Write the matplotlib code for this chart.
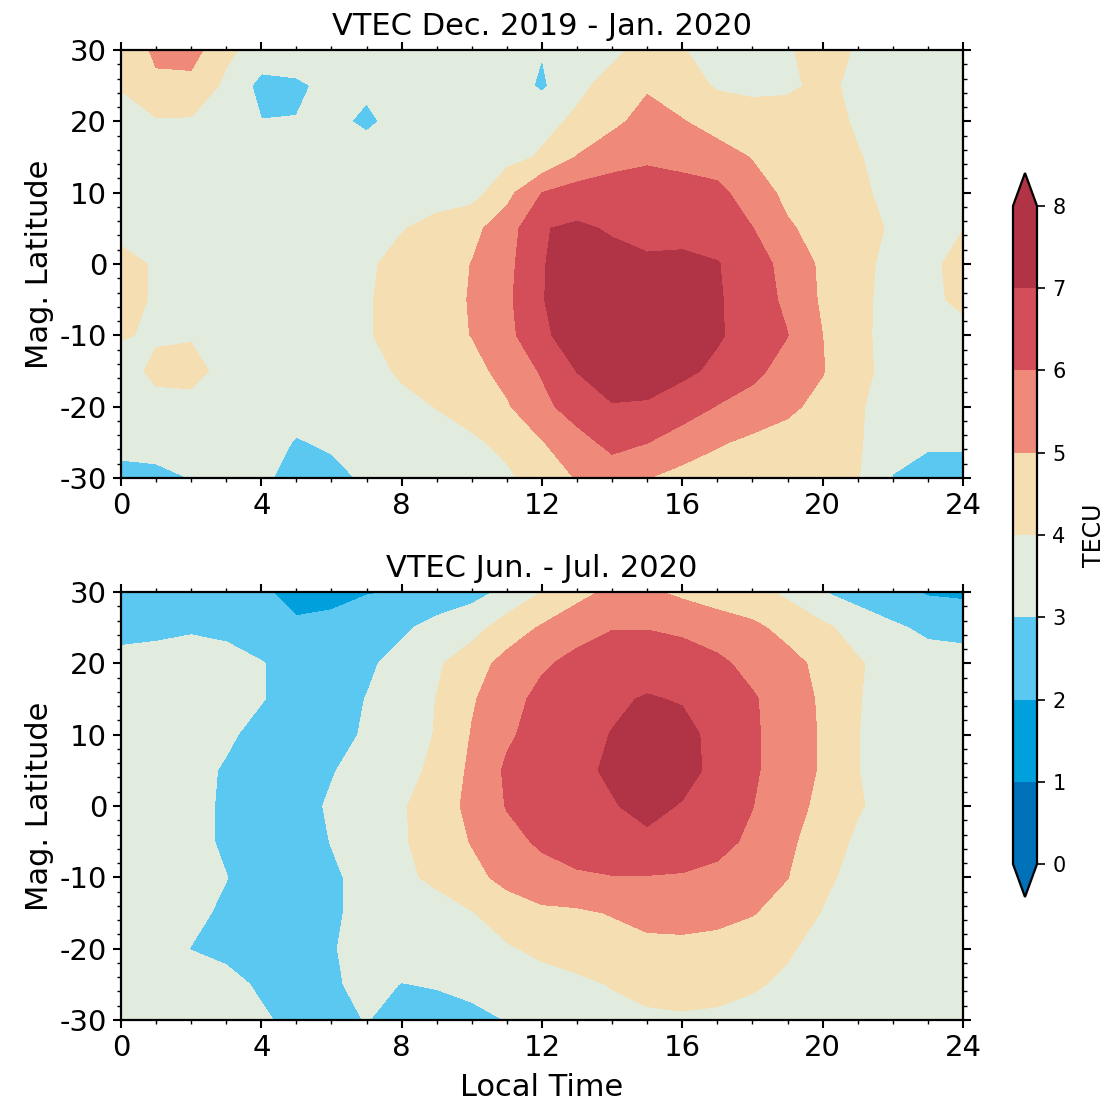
import matplotlib.pyplot as plt
import numpy as np
from matplotlib.colors import ListedColormap, BoundaryNorm
from matplotlib.ticker import MultipleLocator

plt.rcParams['axes.unicode_minus'] = False

# grid: local time (hours) and magnetic latitude (deg)
localTime = np.arange(0, 25, 1)
magLat = [30, 25, 20, 15, 10, 5, 0, -5, -10, -15, -20, -25, -30]

# VTEC Dec. 2019 - Jan. 2020 (rows = magLat, cols = localTime 0..24)
vtecDecJan = [
    [4.2, 5.2, 5.4, 4.2, 3.6, 3.9, 3.8, 3.5, 3.4, 3.4, 3.3, 3.3, 3.05, 3.5, 3.8, 4.3, 4.05, 3.6, 3.5, 3.9, 4.4, 3.9, 3.6, 3.5, 3.5],
    [4.05, 4.8, 4.7, 3.8, 2.7, 2.75, 3.4, 3.15, 3.3, 3.5, 3.4, 3.5, 2.85, 3.8, 4.3, 4.9, 4.4, 3.9, 3.75, 3.85, 4.2, 3.8, 3.6, 3.6, 3.6],
    [3.7, 3.9, 3.9, 3.6, 3.02, 3.05, 3.2, 2.85, 3.3, 3.4, 3.5, 3.6, 3.75, 4.15, 4.8, 5.3, 5.05, 4.6, 4.5, 4.4, 4.3, 3.9, 3.6, 3.5, 3.5],
    [3.5, 3.5, 3.5, 3.4, 3.3, 3.3, 3.3, 3.4, 3.4, 3.5, 3.6, 3.7, 4.1, 5.05, 5.5, 5.8, 5.6, 5.4, 4.95, 4.6, 4.4, 4.05, 3.7, 3.5, 3.5],
    [3.6, 3.5, 3.4, 3.4, 3.3, 3.3, 3.4, 3.5, 3.6, 3.6, 3.6, 4.7, 6.0, 6.4, 6.6, 6.6, 6.5, 6.3, 5.4, 4.8, 4.5, 4.2, 3.7, 3.6, 3.6],
    [3.7, 3.6, 3.5, 3.5, 3.4, 3.4, 3.5, 3.7, 3.95, 4.3, 4.75, 5.5, 6.95, 7.15, 6.9, 6.7, 6.7, 6.5, 6.02, 5.1, 4.7, 4.3, 3.9, 3.9, 3.98],
    [4.3, 3.9, 3.6, 3.5, 3.5, 3.5, 3.6, 3.85, 4.3, 4.6, 5.02, 5.7, 6.95, 7.4, 7.3, 7.15, 7.2, 7.05, 6.4, 5.7, 4.8, 4.2, 3.8, 3.8, 4.3],
    [4.3, 3.9, 3.6, 3.5, 3.5, 3.5, 3.6, 3.9, 4.4, 4.7, 5.05, 5.8, 6.95, 7.6, 7.7, 7.6, 7.5, 7.1, 6.5, 5.8, 4.85, 4.15, 3.8, 3.8, 4.2],
    [4.05, 3.92, 3.95, 3.6, 3.5, 3.5, 3.6, 3.9, 4.4, 4.7, 5.02, 5.7, 6.8, 7.5, 7.7, 7.7, 7.5, 7.1, 6.6, 6.02, 5.0, 4.2, 3.7, 3.7, 3.7],
    [3.7, 4.15, 4.2, 3.8, 3.4, 3.4, 3.5, 3.75, 4.1, 4.4, 4.7, 5.3, 6.1, 7.02, 7.4, 7.4, 7.2, 6.8, 6.25, 5.6, 5.05, 4.25, 3.7, 3.6, 3.6],
    [3.5, 3.8, 3.8, 3.5, 3.3, 3.3, 3.4, 3.6, 3.8, 4.02, 4.5, 4.9, 5.7, 6.5, 6.95, 6.9, 6.5, 5.95, 5.6, 5.2, 4.7, 4.1, 3.6, 3.4, 3.4],
    [3.3, 3.3, 3.5, 3.5, 3.3, 2.95, 3.1, 3.3, 3.5, 3.7, 3.8, 4.3, 4.95, 5.6, 6.3, 6.02, 5.5, 5.1, 4.8, 4.6, 4.5, 4.1, 3.4, 3.1, 3.1],
    [2.7, 2.8, 3.02, 3.3, 3.15, 2.7, 2.8, 3.1, 3.3, 3.5, 3.7, 3.8, 4.5, 5.05, 5.4, 5.02, 4.7, 4.5, 4.4, 4.3, 4.2, 4.05, 2.95, 2.7, 2.7],
]

# VTEC Jun. - Jul. 2020
vtecJunJul = [
    [1.95, 2.3, 2.4, 2.3, 2.1, 1.8, 1.8, 1.95, 2.05, 2.4, 2.7, 3.2, 4.02, 4.7, 5.2, 5.15, 4.8, 4.5, 4.3, 3.8, 3.02, 2.6, 2.3, 1.9, 1.8],
    [2.7, 2.75, 2.9, 2.8, 2.4, 2.1, 2.2, 2.5, 2.85, 3.3, 3.6, 4.5, 5.1, 5.6, 5.95, 5.95, 5.8, 5.5, 5.2, 4.7, 4.2, 3.6, 3.15, 2.8, 2.75],
    [3.3, 3.4, 3.4, 3.3, 3.05, 2.6, 2.6, 2.85, 3.3, 3.85, 4.6, 5.3, 5.85, 6.3, 6.6, 6.7, 6.5, 6.2, 5.7, 5.3, 4.75, 4.1, 3.6, 3.4, 3.3],
    [3.4, 3.5, 3.5, 3.4, 3.05, 2.6, 2.7, 3.02, 3.5, 4.02, 4.9, 5.6, 6.3, 6.7, 6.9, 7.05, 6.95, 6.7, 6.1, 5.5, 4.85, 4.05, 3.6, 3.5, 3.4],
    [3.5, 3.5, 3.4, 3.15, 2.7, 2.6, 2.7, 3.1, 3.6, 4.05, 5.05, 5.85, 6.4, 6.8, 7.02, 7.3, 7.2, 6.8, 6.15, 5.5, 4.9, 4.02, 3.6, 3.5, 3.5],
    [3.5, 3.5, 3.3, 2.9, 2.6, 2.6, 2.95, 3.3, 3.7, 4.2, 5.2, 6.15, 6.6, 6.85, 7.1, 7.4, 7.25, 6.8, 6.15, 5.45, 4.9, 4.02, 3.6, 3.5, 3.5],
    [3.5, 3.5, 3.3, 2.85, 2.6, 2.7, 3.1, 3.5, 3.9, 4.5, 5.25, 6.05, 6.5, 6.8, 6.95, 7.2, 6.95, 6.6, 6.02, 5.3, 4.8, 4.1, 3.6, 3.5, 3.5],
    [3.5, 3.5, 3.3, 2.85, 2.6, 2.7, 3.02, 3.4, 3.9, 4.4, 5.05, 5.7, 6.15, 6.5, 6.8, 6.85, 6.65, 6.3, 5.8, 5.15, 4.6, 3.8, 3.5, 3.5, 3.5],
    [3.5, 3.5, 3.4, 3.02, 2.6, 2.6, 2.9, 3.2, 3.85, 4.15, 4.7, 5.3, 5.65, 5.85, 5.95, 5.95, 5.9, 5.75, 5.45, 5.02, 4.2, 3.7, 3.5, 3.5, 3.5],
    [3.5, 3.5, 3.2, 2.85, 2.6, 2.55, 2.9, 3.2, 3.5, 3.7, 3.95, 4.45, 4.8, 4.85, 5.05, 5.3, 5.3, 5.25, 5.05, 4.6, 3.95, 3.6, 3.5, 3.5, 3.5],
    [3.5, 3.4, 2.98, 2.75, 2.6, 2.6, 2.95, 3.25, 3.4, 3.5, 3.7, 3.9, 4.2, 4.45, 4.6, 4.75, 4.8, 4.7, 4.45, 4.1, 3.7, 3.5, 3.5, 3.5, 3.5],
    [3.5, 3.5, 3.4, 3.3, 2.85, 2.6, 2.9, 3.2, 2.98, 3.05, 3.2, 3.4, 3.65, 3.8, 4.05, 4.25, 4.3, 4.25, 4.1, 3.85, 3.6, 3.5, 3.5, 3.5, 3.5],
    [3.5, 3.5, 3.5, 3.4, 3.15, 2.7, 2.85, 3.02, 2.8, 2.7, 2.8, 3.02, 3.3, 3.5, 3.7, 3.85, 3.9, 3.85, 3.7, 3.55, 3.5, 3.5, 3.5, 3.5, 3.5],
]

titles = ['VTEC Dec. 2019 - Jan. 2020', 'VTEC Jun. - Jul. 2020']
levels = [0, 1, 2, 3, 4, 5, 6, 7, 8]
colors = ['#0070b8', '#00a0dc', '#5ac8f0', '#e1ebde', '#f5deb2', '#ef8a7a', '#d34e58', '#b03445']

cmap = ListedColormap(colors)
cmap.set_under(colors[0])
cmap.set_over(colors[-1])
norm = BoundaryNorm(levels, cmap.N)

fig = plt.figure(figsize=(11.07, 11.05), dpi=100)
W, H = 1107.0, 1105.0
ax1 = fig.add_axes([121/W, 1 - 478/H, 842/W, 428/H])
ax2 = fig.add_axes([121/W, 1 - 1020/H, 842/W, 428/H])
cax = fig.add_axes([1013/W, 1 - 897/H, 24/W, 724/H])

for ax, data, title in zip([ax1, ax2], [vtecDecJan, vtecJunJul], titles):
    cs = ax.contourf(localTime, magLat, np.array(data), levels=levels, cmap=cmap,
                     norm=norm, extend='both')
    ax.set_xlim(0, 24)
    ax.set_ylim(-30, 30)
    ax.set_xticks([0, 4, 8, 12, 16, 20, 24])
    ax.set_yticks([-30, -20, -10, 0, 10, 20, 30])
    ax.xaxis.set_minor_locator(MultipleLocator(1))
    ax.yaxis.set_minor_locator(MultipleLocator(2))
    ax.tick_params(which='both', direction='out', top=True, right=True, width=1.5)
    ax.tick_params(which='major', length=6, labelsize=21, pad=4)
    ax.tick_params(which='minor', length=3, width=1.0)
    for sp in ax.spines.values():
        sp.set_linewidth(1.6)
    ax.set_ylabel('Mag. Latitude', fontsize=22, labelpad=4)
    ax.set_title(title, fontsize=22, pad=11)

ax2.set_xlabel('Local Time', fontsize=22, labelpad=8)

cb = fig.colorbar(cs, cax=cax, orientation='vertical', extend='both')
cb.set_ticks(levels)
cb.ax.tick_params(labelsize=15, length=6, width=1.2, direction='out', pad=5)
cb.outline.set_linewidth(1.6)
cb.set_label('TECU', fontsize=17, labelpad=12)

plt.savefig('out.png', dpi=100)
